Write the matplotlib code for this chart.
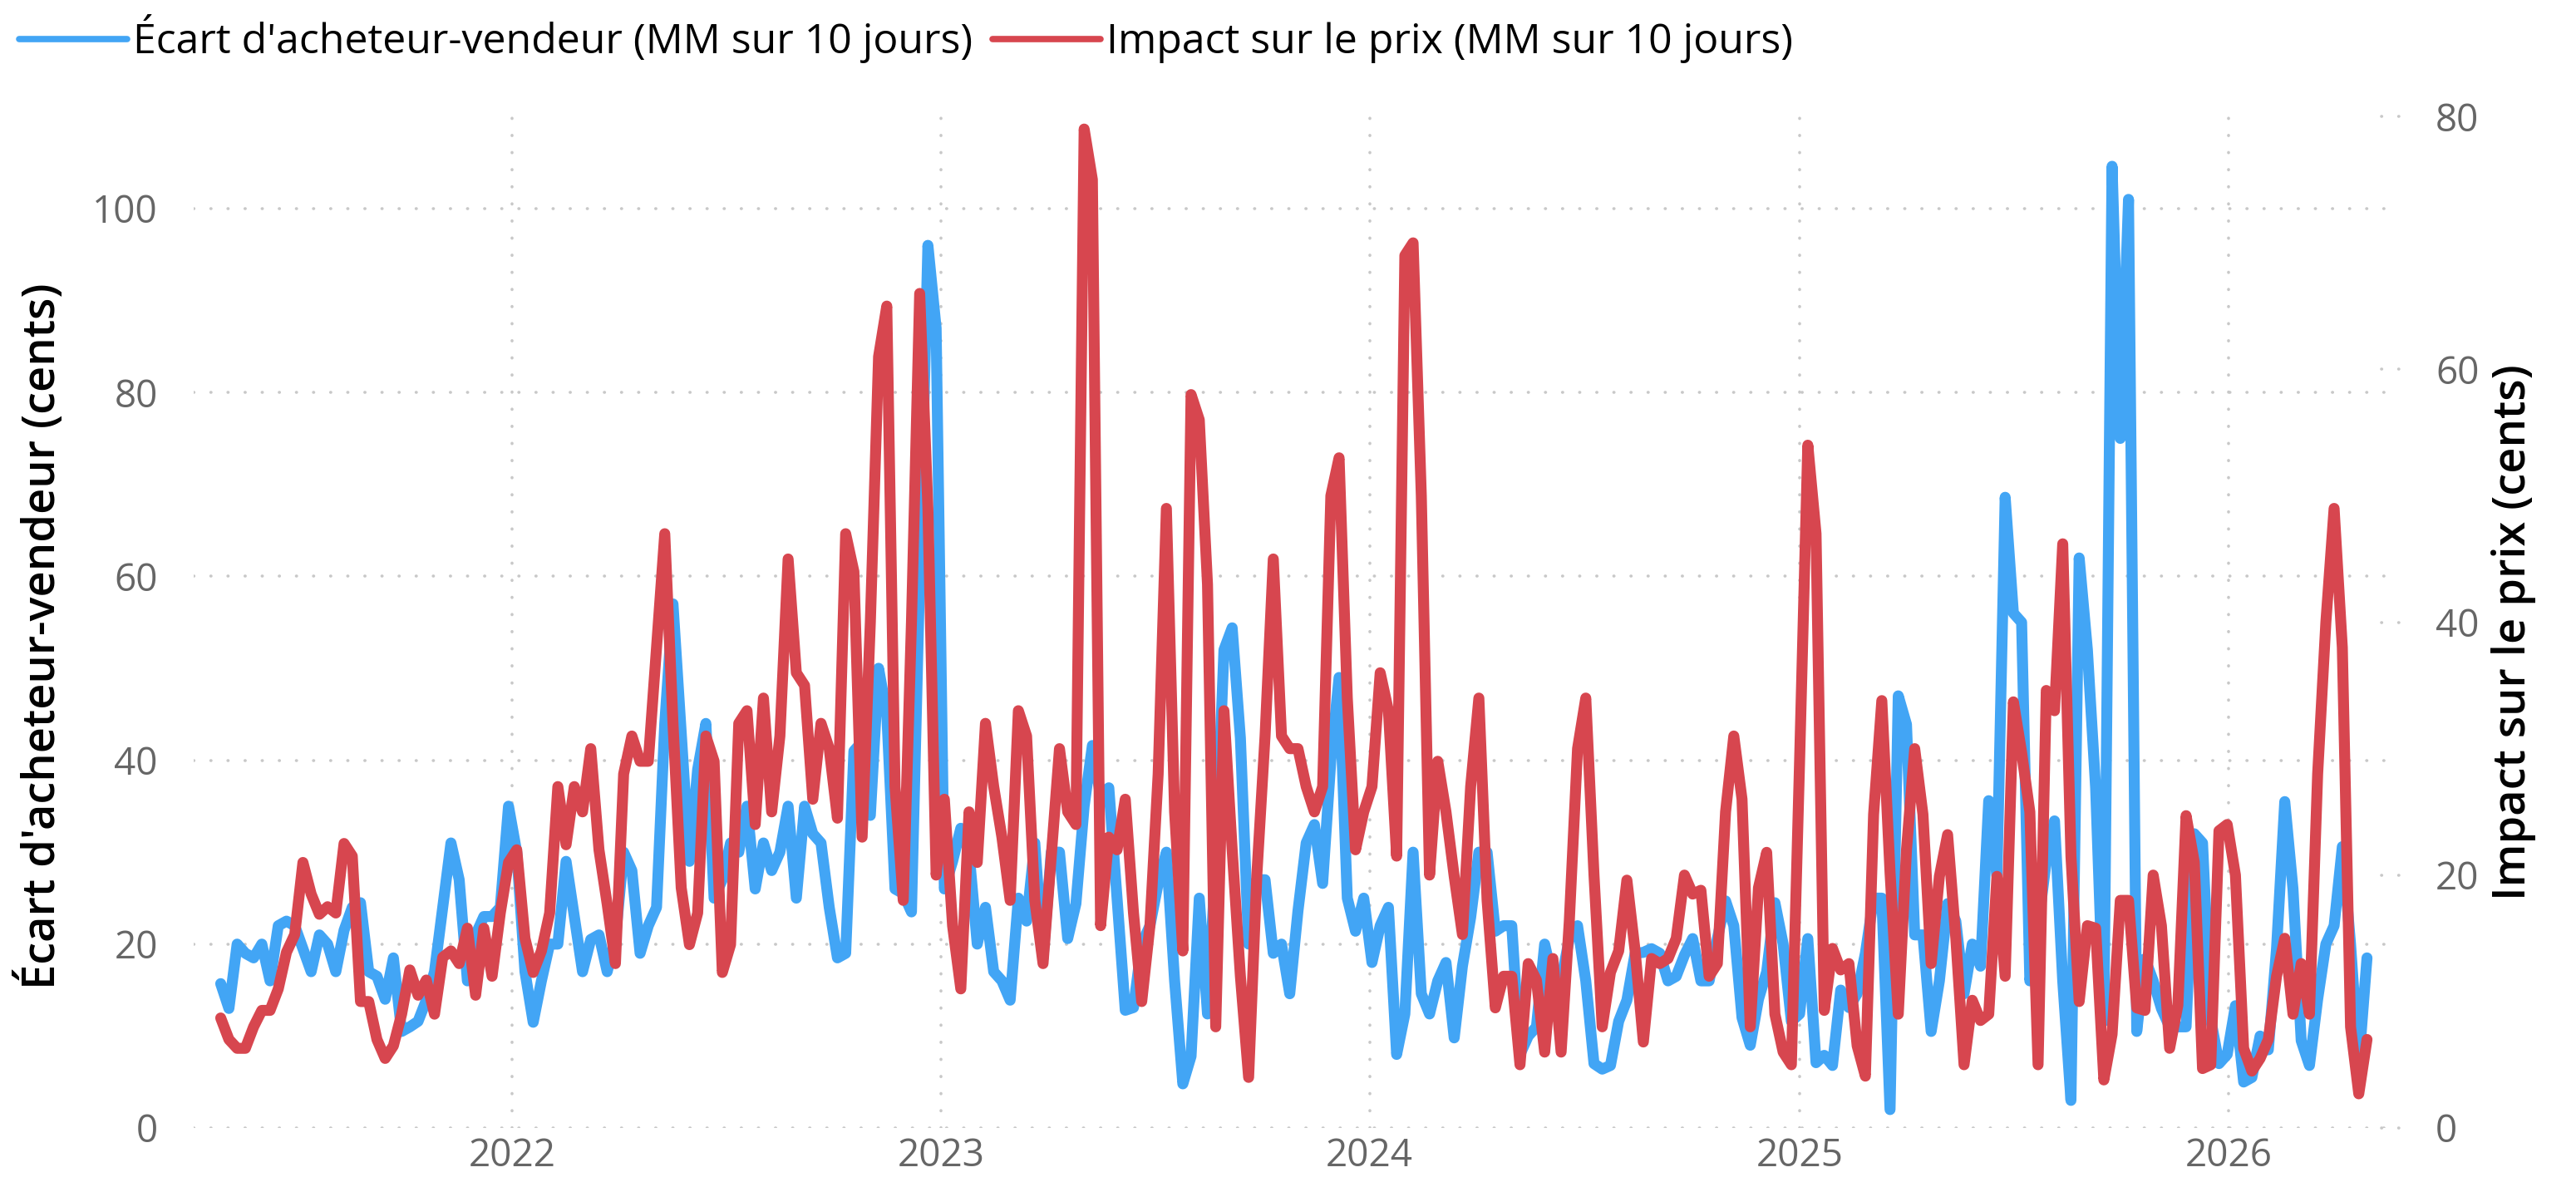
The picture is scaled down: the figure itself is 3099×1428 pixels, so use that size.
import matplotlib
matplotlib.use('Agg')
import matplotlib.pyplot as plt
import matplotlib.dates as mdates
import matplotlib.transforms as mtransforms
from matplotlib.lines import Line2D
import pandas as pd

# weekly points
dates = pd.date_range('2021-04-28', periods=262, freq='7D')

# bid-ask spread, 10 day MA (cents, left axis)
ecart = [
    15.7, 13, 20, 19, 18.5, 20, 16, 22, 22.5, 22,
    19.5, 17, 21, 20, 17, 21.5, 24, 24.5, 17, 16.5,
    14, 18.5, 10.5, 11, 11.6, 13.9, 17, 24, 31, 27,
    16, 21, 23, 23, 24, 35, 30, 17, 11.5, 16,
    20, 20, 29, 23, 17, 20.5, 21, 17, 20.6, 30,
    28, 19, 22, 24, 44, 57, 43, 29, 39, 44,
    25, 27, 31, 30, 35, 26, 31, 28, 30, 35,
    25, 35, 32, 31, 24, 18.5, 19, 41, 42, 34,
    50, 45, 26, 25.5, 23.5, 60, 96, 87, 26, 29,
    32.6, 30, 20, 24, 17, 16, 13.9, 25, 22.5, 31,
    18.4, 30, 30, 20.6, 24.4, 35, 41.6, 36, 37, 25,
    12.8, 13.1, 20, 22, 26.6, 30, 16, 4.8, 7.8, 25,
    12.4, 29, 52, 54.4, 42.4, 20, 27, 27, 19, 20,
    14.6, 23.6, 31, 33, 26.6, 40, 49, 25, 21.4, 25,
    18, 22, 24, 8, 12.4, 30, 14.6, 12.4, 16, 18,
    9.8, 17.6, 22.9, 30, 30, 21.4, 22, 22, 8, 10,
    11, 20, 16, 16, 20.6, 22, 16, 7, 6.4, 6.8,
    11.6, 13.9, 19, 19.1, 19.5, 19, 16, 16.5, 18.8, 20.6,
    16, 16, 20.6, 24.7, 22, 12, 9, 14, 17, 24.5,
    20, 11.6, 12.4, 20.6, 7.1, 7.9, 6.8, 15, 13.1, 14.6,
    19, 25, 25, 2, 47, 43.9, 21, 21, 10.5, 16,
    24.4, 22.5, 14.6, 20, 17.6, 35.6, 27.4, 68.6, 56, 55,
    16, 22, 29, 33.4, 16, 3, 62, 52, 37, 11.6,
    104.6, 75, 101, 10.5, 18.4, 16, 13, 11, 11, 11,
    32, 31, 11.8, 7, 8, 13.3, 5, 5.5, 10, 8.5,
    19.5, 35.5, 26, 9.5, 6.8, 14, 20, 22, 30.6, 20,
    7, 18.5,
]

# price impact, 10 day MA (cents, right axis)
impact = [
    8.7, 7, 6.3, 6.3, 8, 9.3, 9.3, 11, 13.9, 15.3,
    21, 18.5, 16.9, 17.5, 17, 22.5, 21.5, 10, 10, 7,
    5.5, 6.5, 9, 12.5, 10.5, 11.7, 9, 13.5, 14, 13,
    15.8, 10.5, 15.8, 12, 17, 21, 22, 15, 12.3, 14,
    17, 27, 22.4, 27, 25, 30, 22, 17.7, 13, 28,
    31, 29, 29, 38, 47, 32, 19, 14.5, 17, 31,
    29, 12.3, 14.5, 32, 33, 24, 34, 25, 31, 45,
    36, 35, 26, 32, 30, 24.5, 47, 44, 23, 40,
    61, 65, 27, 18, 40, 66, 49, 20, 26, 16,
    11, 25, 21, 32, 27, 23, 18, 33, 31, 18,
    13, 21.5, 30, 25, 24, 79, 75, 16, 23, 22,
    26, 17, 10, 16, 28, 49, 25, 14, 58, 56,
    43, 8, 33, 22, 12, 4, 20, 31, 45, 31,
    30, 30, 27, 25, 27, 50, 53, 34, 22, 25,
    27, 36, 33, 21.5, 69, 70, 50, 20, 29, 25,
    19.9, 15.3, 27, 34, 18, 9.5, 12, 12, 5, 13,
    11.7, 6, 13.4, 6, 16.4, 30, 34, 20, 8, 12.3,
    14, 19.6, 14, 6.8, 13.4, 13, 13.4, 15, 20, 18.5,
    18.8, 12, 13, 25, 31, 26, 8, 19, 21.8, 9,
    6, 5, 29, 54, 47, 9.3, 14.2, 12.5, 13, 6.5,
    4.1, 24.8, 33.8, 20.2, 9, 22, 30, 24.8, 13, 19.9,
    23.2, 15, 5, 10.1, 8.5, 9, 19.9, 12, 33.7, 29.7,
    25, 5, 34.6, 33, 46.2, 21.5, 10, 16, 15.8, 3.8,
    7.4, 18, 18, 9.5, 9.3, 20, 16, 6.3, 9.7, 24.7,
    21, 4.7, 5, 23.5, 24, 20, 6.3, 4.5, 5.5, 7,
    12, 15, 9, 13, 9, 28, 40, 49, 38, 8,
    2.7, 7,
]

left_ticks = [0, 20, 40, 60, 80, 100]
right_ticks = [0, 20, 40, 60, 80]

label_ecart = "Écart d'acheteur-vendeur (MM sur 10 jours)"
label_impact = "Impact sur le prix (MM sur 10 jours)"

blue = '#42A5F5'
red = '#D7464F'
grey = '#666666'
gridc = '#C8C8C8'
dots = (0, (0.1, 5.6))

plt.rcParams['font.family'] = ['Open Sans', 'DejaVu Sans']

W, H = 3099, 1428
fig = plt.figure(figsize=(W / 100, H / 100), dpi=100)
ax = fig.add_axes([233 / W, 1 - 1357 / H, (2873 - 233) / W, (1357 - 137) / H])
ax2 = ax.twinx()

ax.plot(dates, ecart, color=blue, lw=9.5, solid_joinstyle='round', solid_capstyle='round')
ax2.plot(dates, impact, color=red, lw=9.5, solid_joinstyle='round', solid_capstyle='round')

ax.set_xlim(pd.Timestamp('2021-04-05'), pd.Timestamp('2026-05-17'))
ax.set_ylim(0, 110.3)
ax2.set_ylim(0, 80.2)
ax.set_yticks(left_ticks)
ax2.set_yticks(right_ticks)
ax.xaxis.set_major_locator(mdates.YearLocator())
ax.xaxis.set_major_formatter(mdates.DateFormatter('%Y'))

for a in (ax, ax2):
    for s in a.spines.values():
        s.set_visible(False)
ax.tick_params(axis='y', length=0, labelsize=33, labelcolor=grey, pad=31)
ax.tick_params(axis='x', length=0, labelsize=33, labelcolor=grey, pad=8)
ax2.tick_params(axis='y', length=0, labelsize=33, labelcolor=grey, pad=41)

ax.grid(True, color=gridc, linestyle=dots, linewidth=2.6, dash_capstyle='round')
ax.set_axisbelow(True)

# short dotted marks at the right-axis ticks
trans = mtransforms.blended_transform_factory(ax2.transAxes, ax2.transData)
for v in right_ticks:
    ax2.plot([0.997, 1.007], [v, v], transform=trans, clip_on=False,
             color=gridc, linestyle=dots, linewidth=2.6, dash_capstyle='round')

handles = [Line2D([], [], color=blue, lw=5.5, solid_capstyle='round'),
           Line2D([], [], color=red, lw=5.5, solid_capstyle='round')]
fig.legend(handles, [label_ecart, label_impact], loc='center left',
           bbox_to_anchor=(23 / W, 1 - 47 / H), ncol=2, frameon=False,
           fontsize=36, handlelength=2.6, handletextpad=0.14,
           columnspacing=0.48, borderpad=0, borderaxespad=0)

fig.text(49 / W, 1 - 765 / H, "Écart d'acheteur-vendeur (cents)", rotation=90,
         ha='center', va='center', fontsize=39, fontweight='semibold', color='black')
fig.text(3024 / W, 1 - 761 / H, "Impact sur le prix (cents)", rotation=90,
         ha='center', va='center', fontsize=39, fontweight='semibold', color='black')

fig.savefig('out.png', dpi=100)
